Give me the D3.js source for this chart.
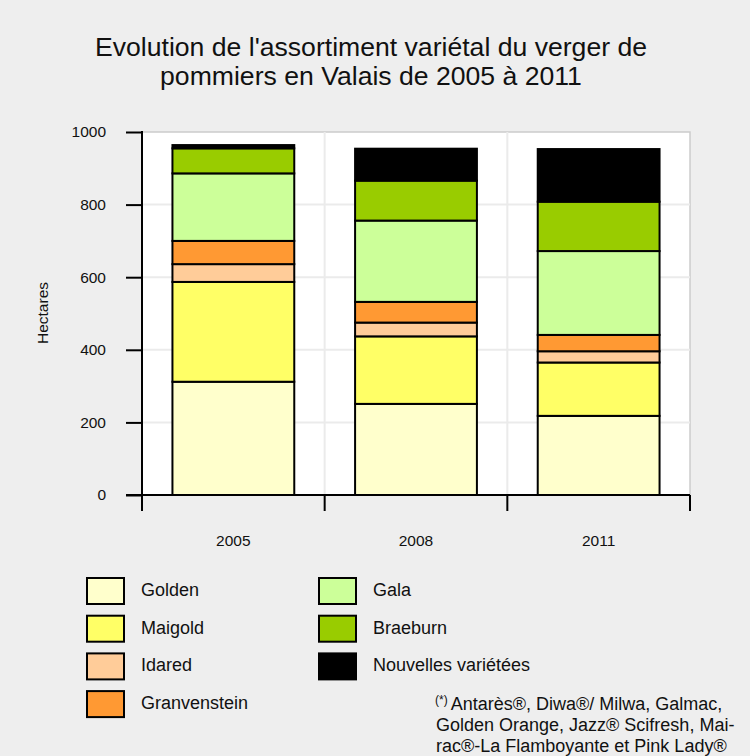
<!DOCTYPE html>
<html>
<head>
<meta charset="utf-8">
<script src="https://cdn.jsdelivr.net/npm/d3@7"></script>
<style>
  body { margin: 0; background: #eeeeee; }
  text { font-family: Arial, "Liberation Sans", sans-serif; fill: #111; }
</style>
</head>
<body>
<div id="chart"></div>
<script>
// data (hectares)
var years = ["2005", "2008", "2011"];
var varieties = ["Golden", "Maigold", "Idared", "Granvenstein", "Gala", "Braeburn", "Nouvelles variétées"];
var golden = [312, 251, 218];
var maigold = [275, 186, 147];
var idared = [49, 38, 31];
var granvenstein = [64, 57, 45];
var gala = [186, 224, 231];
var braeburn = [69, 110, 136];
var nouvelles = [9, 88, 145];
var yTicks = [0, 200, 400, 600, 800, 1000];
var colors = ["#ffffcc", "#ffff66", "#ffcc99", "#ff9933", "#ccff99", "#99cc00", "#000000"];
var titleLines = ["Evolution de l'assortiment variétal du verger de", "pommiers en Valais de 2005 à 2011"];
var footnote = ["Antarès®, Diwa®/ Milwa, Galmac,", "Golden Orange, Jazz® Scifresh, Mai-", "rac®-La Flamboyante et Pink Lady®"];

var series = [golden, maigold, idared, granvenstein, gala, braeburn, nouvelles];
var rows = years.map(function(y, i){
  var r = { year: y };
  varieties.forEach(function(v, k){ r[v] = series[k][i]; });
  return r;
});

var W = 750, H = 756;
var svg = d3.select('#chart').append('svg')
  .attr('width', W)
  .attr('height', H);

svg.append('rect').attr('width', W).attr('height', H).style('fill', '#eeeeee');

// title
svg.append('g').selectAll('text')
  .data(titleLines)
  .enter().append('text')
  .attr('x', 371)
  .attr('y', function(d, i){ return 56 + i * 29; })
  .attr('text-anchor', 'middle')
  .attr('font-size', 26.6)
  .text(function(d){ return d; });

var pLeft = 142, pRight = 690, pTop = 132, pBottom = 495;

// bars take two thirds of each category slot
var x = d3.scaleBand().domain(years).range([pLeft, pRight]).paddingInner(0.333).paddingOuter(0.1667);
var y = d3.scaleLinear().domain([0, 1000]).range([pBottom, pTop]);
var band = d3.scaleBand().domain(years).range([pLeft, pRight]);

// plot background
svg.append('rect')
  .attr('x', pLeft).attr('y', pTop)
  .attr('width', pRight - pLeft).attr('height', pBottom - pTop)
  .style('fill', '#ffffff')
  .style('stroke', '#cccccc')
  .style('stroke-width', 1.5);

// grid
svg.append('g').selectAll('line')
  .data(yTicks.slice(1, -1))
  .enter().append('line')
  .attr('x1', pLeft).attr('x2', pRight)
  .attr('y1', function(d){ return y(d); }).attr('y2', function(d){ return y(d); })
  .style('stroke', '#ebebeb').style('stroke-width', 2);

svg.append('g').selectAll('line')
  .data(years.slice(1))
  .enter().append('line')
  .attr('x1', function(d){ return band(d); }).attr('x2', function(d){ return band(d); })
  .attr('y1', pTop).attr('y2', pBottom)
  .style('stroke', '#ebebeb').style('stroke-width', 2);

// stacked bars
var stack = d3.stack().keys(varieties)(rows);

var layers = svg.append('g').selectAll('g')
  .data(stack)
  .enter().append('g')
  .style('fill', function(d, i){ return colors[i]; });

layers.selectAll('rect')
  .data(function(d){ return d; })
  .enter().append('rect')
  .attr('x', function(d){ return x(d.data.year); })
  .attr('y', function(d){ return y(d[1]); })
  .attr('width', x.bandwidth())
  .attr('height', function(d){ return y(d[0]) - y(d[1]); })
  .style('stroke', '#000')
  .style('stroke-width', 2);

// y axis
var yAxis = svg.append('g')
  .attr('transform', 'translate(' + pLeft + ',0)')
  .call(d3.axisLeft(y).tickValues(yTicks).tickFormat(d3.format('d')).tickSize(16).tickPadding(20));
yAxis.select('.domain').remove();
yAxis.selectAll('line').style('stroke', '#000').style('stroke-width', 2);
yAxis.selectAll('text').attr('font-size', 15.5).style('font-family', 'Arial, "Liberation Sans", sans-serif');
yAxis.append('line').attr('x1', 0).attr('x2', 0).attr('y1', pTop - 1).attr('y2', pBottom + 16)
  .style('stroke', '#000').style('stroke-width', 2);

// x axis
var xg = svg.append('g');
xg.append('line').attr('x1', pLeft - 16).attr('x2', pRight).attr('y1', pBottom).attr('y2', pBottom)
  .style('stroke', '#000').style('stroke-width', 2);
xg.selectAll('.tk')
  .data(years.concat(['end']))
  .enter().append('line')
  .attr('class', 'tk')
  .attr('x1', function(d){ return d == 'end' ? pRight : band(d); })
  .attr('x2', function(d){ return d == 'end' ? pRight : band(d); })
  .attr('y1', pBottom).attr('y2', pBottom + 16)
  .style('stroke', '#000').style('stroke-width', 2);
xg.selectAll('text')
  .data(years)
  .enter().append('text')
  .attr('x', function(d){ return x(d) + x.bandwidth() / 2; })
  .attr('y', 546)
  .attr('text-anchor', 'middle')
  .attr('font-size', 15.5)
  .text(function(d){ return d; });

// axis title
svg.append('text')
  .attr('transform', 'translate(48,313) rotate(-90)')
  .attr('text-anchor', 'middle')
  .attr('font-size', 15.5)
  .text('Hectares');

// legend
var legend = svg.append('g').selectAll('g')
  .data(varieties)
  .enter().append('g')
  .attr('transform', function(d, i){
    var col = i < 4 ? 0 : 1, row = i < 4 ? i : i - 4;
    return 'translate(' + (87 + col * 232) + ',' + (578 + row * 37.7) + ')';
  });

legend.append('rect')
  .attr('width', 37).attr('height', 26)
  .style('fill', function(d, i){ return colors[i]; })
  .style('stroke', '#000')
  .style('stroke-width', 2);

legend.append('text')
  .attr('x', 54).attr('y', 18)
  .attr('font-size', 18)
  .text(function(d){ return d; });

// footnote
var fn = svg.append('text').attr('x', 435).attr('font-size', 18);
fn.append('tspan').attr('y', 704).attr('font-size', 12).text('(*)');
fn.append('tspan').attr('dx', 3).attr('y', 710).text(footnote[0]);
fn.append('tspan').attr('x', 436).attr('y', 731).text(footnote[1]);
fn.append('tspan').attr('x', 436).attr('y', 751.5).text(footnote[2]);
</script>
</body>
</html>
